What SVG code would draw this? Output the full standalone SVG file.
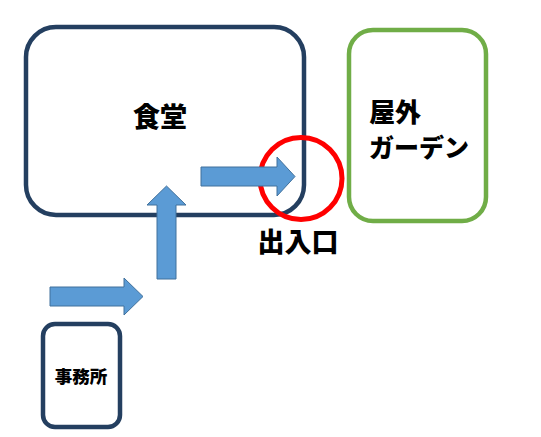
<svg xmlns="http://www.w3.org/2000/svg" width="541" height="437" viewBox="0 0 541 437">
<style>
.lbl{font-family:"Noto Sans CJK JP","Noto Sans CJK SC",sans-serif;font-weight:900;fill:#000;dominant-baseline:central}
.navy{fill:#fff;stroke:#243F60;stroke-width:4.5}
.arrow{fill:#5B9BD5;stroke:#41719C;stroke-width:1}
</style>
<rect width="541" height="437" fill="#fff"/>
<g id="shokudo">
<rect class="navy" x="26" y="27" width="278" height="188" rx="30"/>
<text class="lbl" x="160" y="115" font-size="27" text-anchor="middle">食堂</text>
</g>
<g id="garden">
<rect x="349" y="30" width="137" height="191" rx="24" fill="#fff" stroke="#70AD47" stroke-width="4.5"/>
<text class="lbl" x="369" y="110" font-size="26">屋外</text>
<text class="lbl" x="369" y="146" font-size="25">ガーデン</text>
</g>
<g id="jimusho">
<rect class="navy" x="43" y="324" width="77" height="103" rx="12"/>
<text class="lbl" x="81" y="375" font-size="17.5" text-anchor="middle">事務所</text>
</g>
<g id="deiriguchi">
<circle cx="301" cy="178.5" r="41" fill="none" stroke="#FF0000" stroke-width="5"/>
<text class="lbl" x="298" y="240" font-size="27" text-anchor="middle">出入口</text>
</g>
<g id="connectors">
<polygon class="arrow" points="50,287 124,287 124,278 143,296.5 124,315 124,306 50,306"/>
<polygon class="arrow" points="157,279 157,205 147,205 166.5,186 186,205 176,205 176,279"/>
<polygon class="arrow" points="201,167 277,167 277,157 295,176.5 277,196 277,186 201,186"/>
</g>
</svg>
